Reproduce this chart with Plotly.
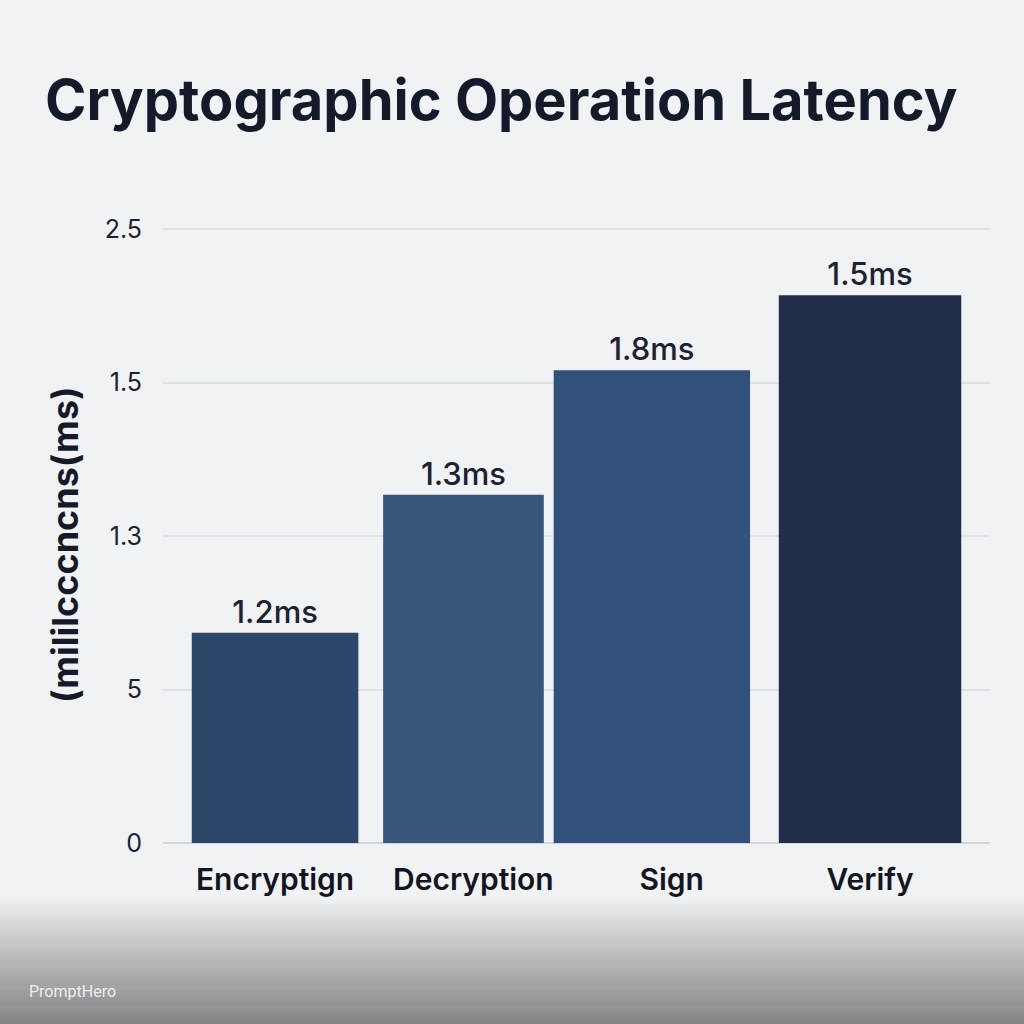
import plotly.graph_objects as go

categories = ["Encryptign", "Decryption", "Sign", "Verify"]
bar_heights = [1.37, 2.27, 3.08, 3.57]          # in axis grid units (as drawn)
bar_labels = ["1.2ms", "1.3ms", "1.8ms", "1.5ms"]
tick_positions = [0, 1, 2, 3, 4]
tick_labels = ["0", "5", "1.3", "1.5", "2.5"]

bar_colors = ["#2c4769", "#385679", "#31507a", "#202e4a"]
bar_widths = [0.84, 0.81, 0.99, 0.92]
bar_shifts = [0.0, -0.05, -0.10, 0.0]
bar_offsets = [-w / 2 + s for w, s in zip(bar_widths, bar_shifts)]

BG = "#f1f2f4"
FONT = "Inter, Roboto, 'Noto Sans', sans-serif"

W, H = 1024, 1024
ML, MR, MT, MB = 163, 34, 200, 181
PW, PH = W - ML - MR, H - MT - MB


def px_x(px):
    return (px - ML) / PW


def px_y(py):
    return (H - MB - py) / PH


fig = go.Figure()
fig.add_trace(go.Bar(
    x=categories,
    y=bar_heights,
    text=bar_labels,
    textposition="outside",
    textfont=dict(size=31, color="#1b2233", family=FONT, weight=500),
    marker=dict(color=bar_colors, line=dict(width=0)),
    width=bar_widths,
    offset=bar_offsets,
    cliponaxis=False,
    hoverinfo="skip",
))

# bottom gradient band (container pixels 898..1024)
shapes = []
n = 60
top_px, bot_px = 898, 1024
for i in range(n):
    a = top_px + (bot_px - top_px) * i / n
    b = top_px + (bot_px - top_px) * (i + 1) / n
    t = (i + 0.5) / n  # 0 top -> 1 bottom
    c0 = (241, 242, 244)
    c1 = (132, 132, 134)
    f = t ** 0.9
    col = tuple(int(round(c0[k] + (c1[k] - c0[k]) * f)) for k in range(3))
    shapes.append(dict(
        type="rect", xref="paper", yref="paper",
        x0=px_x(-5), x1=px_x(W + 5),
        y0=px_y(b + 0.5), y1=px_y(a),
        fillcolor="rgb(%d,%d,%d)" % col, line=dict(width=0), layer="below",
    ))

fig.update_layout(
    width=W, height=H,
    autosize=False,
    paper_bgcolor=BG,
    plot_bgcolor=BG,
    margin=dict(l=ML, r=MR, t=MT, b=MB),
    showlegend=False,
    bargap=0.1,
    title=dict(
        text="<b>Cryptographic Operation Latency</b>",
        x=45 / W, xanchor="left", xref="container",
        y=1 - 100 / H, yanchor="middle", yref="container",
        font=dict(size=56, color="#141a2a", family=FONT),
    ),
    font=dict(family=FONT, color="#1b2233"),
    shapes=shapes,
)

fig.add_annotation(
    text="PromptHero",
    xref="paper", yref="paper",
    x=px_x(27), y=px_y(992),
    xanchor="left", yanchor="middle",
    showarrow=False,
    font=dict(size=16, color="rgba(255,255,255,0.85)", family="Roboto, sans-serif"),
)
fig.add_annotation(
    text="<b>(mililcccncns(ms)</b>",
    xref="paper", yref="paper",
    x=px_x(65), y=px_y(545),
    xanchor="center", yanchor="middle",
    textangle=-90, showarrow=False,
    font=dict(size=36, color="#141a2a", family=FONT),
)

fig.update_xaxes(
    type="category",
    range=[-0.565, 3.605],
    showgrid=False,
    showline=False,
    zeroline=False,
    ticks="",
    ticklabelstandoff=16,
    tickfont=dict(size=30, color="#111622", family=FONT, weight=600),
    fixedrange=True,
)
fig.update_yaxes(
    range=[0, 4.19],
    tickvals=tick_positions,
    ticktext=tick_labels,
    showgrid=True,
    gridcolor="#dde0e4",
    gridwidth=1.5,
    zeroline=True,
    zerolinecolor="#d2d5da",
    zerolinewidth=2,
    showline=False,
    ticks="",
    ticklabelstandoff=20,
    tickfont=dict(size=25, color="#1b2233", family=FONT),
    fixedrange=True,
)

fig.write_html("out.html")
